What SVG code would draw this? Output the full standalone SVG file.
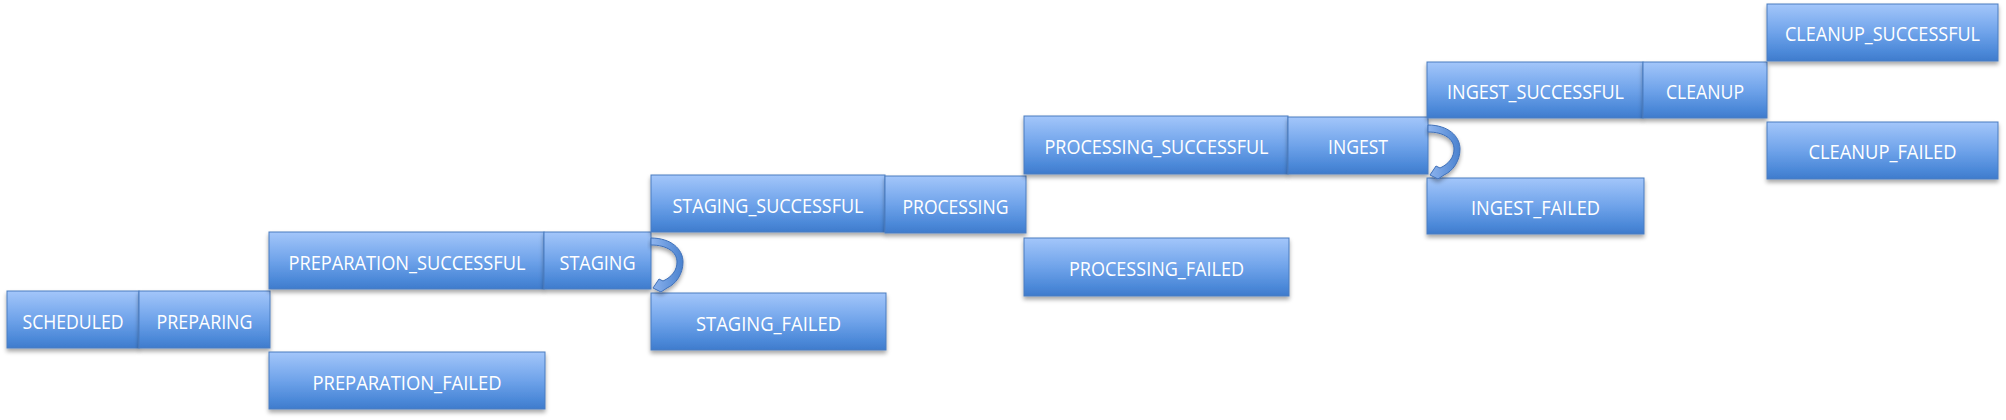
<svg xmlns="http://www.w3.org/2000/svg" xmlns:xlink="http://www.w3.org/1999/xlink" width="2006" height="420" viewBox="0 0 2006 420">
<style>
.box{fill:url(#boxGrad);stroke:#4a7cc0;stroke-width:1;filter:url(#shadow)}
.lbl{fill:#ffffff;font-family:"Open Sans","Liberation Sans",sans-serif;font-size:20px;text-anchor:middle}
.loop{fill:url(#loopGrad);stroke:#3f70b8;stroke-width:1;filter:url(#shadow)}
</style>
<defs>
<linearGradient id="boxGrad" x1="0" y1="0" x2="0" y2="1">
<stop offset="0" stop-color="#a3c6fa"/>
<stop offset="0.5" stop-color="#6fa3ea"/>
<stop offset="0.85" stop-color="#4b88d8"/>
<stop offset="1" stop-color="#3f7bcc"/>
</linearGradient>
<linearGradient id="loopGrad" x1="0" y1="0" x2="1" y2="0">
<stop offset="0" stop-color="#8fb5ef"/>
<stop offset="1" stop-color="#4a82cf"/>
</linearGradient>
<filter id="shadow" x="-10%" y="-20%" width="120%" height="160%">
<feDropShadow dx="0" dy="3" stdDeviation="2" flood-color="#000000" flood-opacity="0.35"/>
</filter>
<path id="selfLoop" d="M651,238 C671,238 683,249 683,262 C683,274 676,284 667,288 L661,292 L653,288 L659,279 L663,281 C672,277 677,270 677,262 C677,252 667,245 651,245 Z"/>
</defs>

<g id="n-scheduled"><rect class="box" x="7" y="291" width="132" height="57"/><text class="lbl" x="73" y="328.5" textLength="101" lengthAdjust="spacingAndGlyphs">SCHEDULED</text></g>
<g id="n-preparing"><rect class="box" x="139" y="291" width="131" height="57"/><text class="lbl" x="204.5" y="328.5" textLength="96" lengthAdjust="spacingAndGlyphs">PREPARING</text></g>
<g id="n-preparation-successful"><rect class="box" x="269" y="232" width="275" height="57"/><text class="lbl" x="407" y="269.5" textLength="237" lengthAdjust="spacingAndGlyphs">PREPARATION_SUCCESSFUL</text></g>
<g id="n-staging"><rect class="box" x="544" y="232" width="107" height="57"/><text class="lbl" x="597.5" y="269.5" textLength="76" lengthAdjust="spacingAndGlyphs">STAGING</text></g>
<g id="n-preparation-failed"><rect class="box" x="269" y="352" width="276" height="57"/><text class="lbl" x="407" y="389.5" textLength="189" lengthAdjust="spacingAndGlyphs">PREPARATION_FAILED</text></g>
<g id="n-staging-successful"><rect class="box" x="651" y="175" width="234" height="57"/><text class="lbl" x="768" y="212.5" textLength="191" lengthAdjust="spacingAndGlyphs">STAGING_SUCCESSFUL</text></g>
<g id="n-processing"><rect class="box" x="885" y="176" width="141" height="57"/><text class="lbl" x="955.5" y="213.5" textLength="106" lengthAdjust="spacingAndGlyphs">PROCESSING</text></g>
<g id="n-staging-failed"><rect class="box" x="651" y="293" width="235" height="57"/><text class="lbl" x="768.5" y="330.5" textLength="145" lengthAdjust="spacingAndGlyphs">STAGING_FAILED</text></g>
<g id="n-processing-successful"><rect class="box" x="1024" y="116" width="264" height="58"/><text class="lbl" x="1156.5" y="153.5" textLength="224" lengthAdjust="spacingAndGlyphs">PROCESSING_SUCCESSFUL</text></g>
<g id="n-ingest"><rect class="box" x="1288" y="117" width="140" height="57"/><text class="lbl" x="1358" y="154" textLength="60" lengthAdjust="spacingAndGlyphs">INGEST</text></g>
<g id="n-processing-failed"><rect class="box" x="1024" y="238" width="265" height="58"/><text class="lbl" x="1156.5" y="275.5" textLength="175" lengthAdjust="spacingAndGlyphs">PROCESSING_FAILED</text></g>
<g id="n-ingest-successful"><rect class="box" x="1427" y="62" width="216" height="56"/><text class="lbl" x="1535.5" y="99" textLength="177" lengthAdjust="spacingAndGlyphs">INGEST_SUCCESSFUL</text></g>
<g id="n-cleanup"><rect class="box" x="1643" y="62" width="124" height="56"/><text class="lbl" x="1705" y="99" textLength="78" lengthAdjust="spacingAndGlyphs">CLEANUP</text></g>
<g id="n-ingest-failed"><rect class="box" x="1427" y="178" width="217" height="56"/><text class="lbl" x="1535.5" y="215" textLength="129" lengthAdjust="spacingAndGlyphs">INGEST_FAILED</text></g>
<g id="n-cleanup-successful"><rect class="box" x="1767" y="4" width="231" height="57"/><text class="lbl" x="1882.5" y="41" textLength="195" lengthAdjust="spacingAndGlyphs">CLEANUP_SUCCESSFUL</text></g>
<g id="n-cleanup-failed"><rect class="box" x="1767" y="122" width="231" height="57"/><text class="lbl" x="1882.5" y="159" textLength="148" lengthAdjust="spacingAndGlyphs">CLEANUP_FAILED</text></g>

<g id="connectors">
<use class="loop" xlink:href="#selfLoop" href="#selfLoop"/>
<use class="loop" xlink:href="#selfLoop" href="#selfLoop" transform="translate(777,-113)"/>
</g>
</svg>
